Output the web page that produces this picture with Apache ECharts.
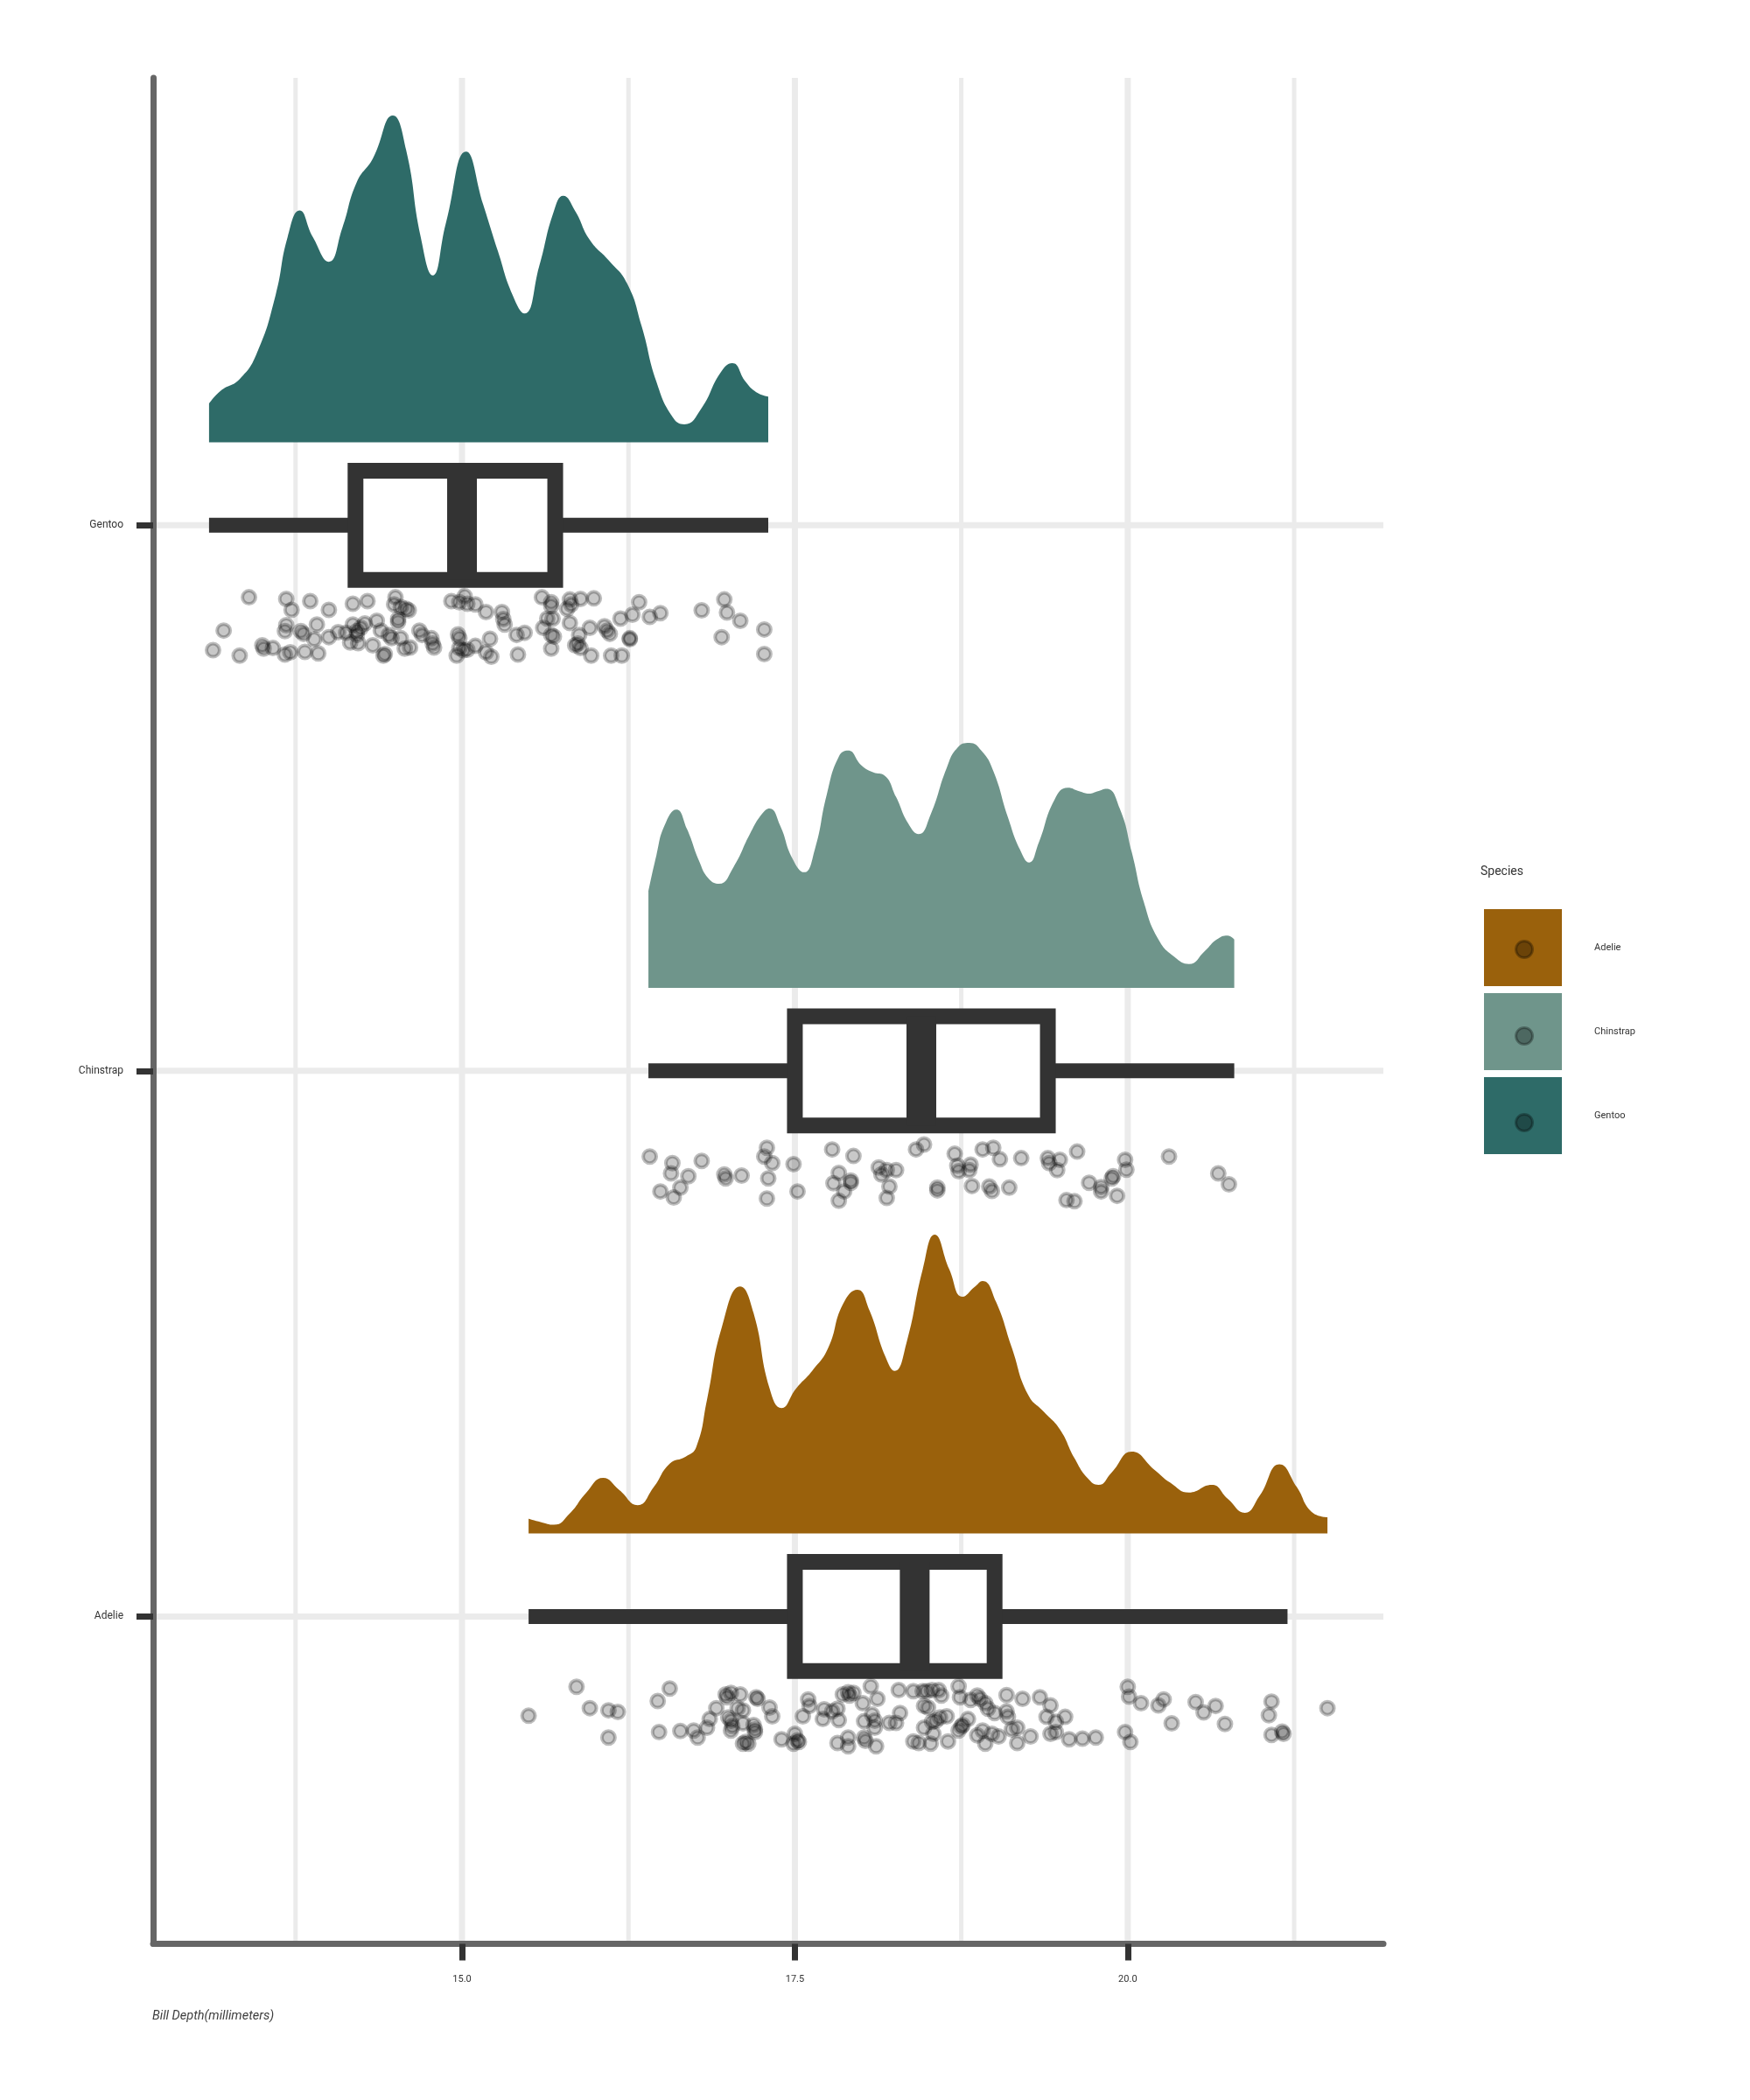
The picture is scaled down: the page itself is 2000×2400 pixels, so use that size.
<!DOCTYPE html>
<html lang="en">
<head>
<meta charset="UTF-8">
<title>Bill depth by species</title>
<style>html,body{margin:0;background:#fff}</style>
</head>
<body>
<div class="main" style="width:2000px;height:2400px"></div>
<script src="https://cdn.jsdelivr.net/npm/echarts@6/dist/echarts.min.js"></script>
<script>
    // categories: Adelie = 1, Chinstrap = 2, Gentoo = 3 on the y axis
    var species = ['Adelie', 'Chinstrap', 'Gentoo'];
    var xTicks = [15.0, 17.5, 20.0];
    var xMinor = [13.75, 16.25, 18.75, 21.25];

    // boxplot: lower whisker, q1, median, q3, upper whisker
    var boxStats = [
        [15.5, 17.5, 18.4, 19.0, 21.2],
        [16.4, 17.5, 18.45, 19.4, 20.8],
        [13.1, 14.2, 15.0, 15.7, 17.3]
    ];

    // half-violin densities: [bill depth, height above the baseline]
    var densAdelie = [
        [15.50, 0.027], [15.59, 0.021], [15.69, 0.016], [15.81, 0.037], [15.93, 0.074], [16.06, 0.102],
        [16.18, 0.080], [16.32, 0.052], [16.44, 0.085], [16.56, 0.128], [16.68, 0.141], [16.76, 0.159],
        [16.84, 0.245], [16.95, 0.377], [17.09, 0.453], [17.19, 0.404], [17.31, 0.266], [17.40, 0.230],
        [17.51, 0.266], [17.63, 0.298], [17.75, 0.340], [17.86, 0.420], [17.97, 0.447], [18.06, 0.409],
        [18.18, 0.324], [18.25, 0.298], [18.34, 0.351], [18.46, 0.484], [18.55, 0.548], [18.66, 0.484],
        [18.76, 0.434], [18.85, 0.452], [18.91, 0.463], [19.01, 0.425], [19.13, 0.340], [19.25, 0.255],
        [19.37, 0.223], [19.49, 0.191], [19.60, 0.138], [19.70, 0.101], [19.78, 0.089], [19.88, 0.112],
        [20.03, 0.150], [20.20, 0.117], [20.32, 0.093], [20.46, 0.075], [20.63, 0.089], [20.75, 0.064],
        [20.88, 0.038], [20.99, 0.069], [21.14, 0.127], [21.27, 0.085], [21.38, 0.040], [21.50, 0.030]
    ];
    var densChinstrap = [
        [16.40, 0.177], [16.46, 0.243], [16.52, 0.297], [16.61, 0.327], [16.69, 0.291], [16.78, 0.233],
        [16.85, 0.201], [16.93, 0.191], [17.04, 0.222], [17.16, 0.281], [17.25, 0.318], [17.31, 0.329],
        [17.39, 0.297], [17.48, 0.238], [17.57, 0.212], [17.65, 0.254], [17.74, 0.355], [17.83, 0.424],
        [17.90, 0.435], [18.00, 0.408], [18.09, 0.395], [18.17, 0.390], [18.26, 0.350], [18.35, 0.302],
        [18.43, 0.282], [18.52, 0.318], [18.64, 0.403], [18.72, 0.440], [18.81, 0.449], [18.90, 0.435],
        [18.99, 0.398], [19.10, 0.313], [19.19, 0.254], [19.26, 0.230], [19.33, 0.265], [19.45, 0.345],
        [19.55, 0.367], [19.64, 0.360], [19.71, 0.356], [19.77, 0.360], [19.84, 0.365], [19.94, 0.329],
        [20.03, 0.249], [20.12, 0.158], [20.23, 0.089], [20.35, 0.057], [20.46, 0.044], [20.58, 0.068],
        [20.67, 0.089], [20.75, 0.096], [20.80, 0.089]
    ];
    var densGentoo = [
        [13.10, 0.071], [13.19, 0.095], [13.33, 0.116], [13.46, 0.164], [13.60, 0.270], [13.69, 0.376],
        [13.78, 0.425], [13.88, 0.376], [14.00, 0.331], [14.10, 0.392], [14.21, 0.477], [14.33, 0.520],
        [14.48, 0.599], [14.58, 0.536], [14.69, 0.376], [14.78, 0.306], [14.88, 0.403], [15.03, 0.533],
        [15.16, 0.435], [15.27, 0.350], [15.38, 0.270], [15.47, 0.236], [15.58, 0.323], [15.69, 0.424],
        [15.76, 0.452], [15.85, 0.424], [15.96, 0.371], [16.10, 0.334], [16.24, 0.291], [16.35, 0.212],
        [16.46, 0.111], [16.58, 0.047], [16.67, 0.033], [16.80, 0.063], [16.94, 0.127], [17.03, 0.145],
        [17.13, 0.111], [17.21, 0.092], [17.30, 0.084]
    ];

    // jittered raw points: [bill depth, vertical offset from the category line]
    var jitAdelie = [
        [15.50, -0.182], [15.86, -0.129], [15.96, -0.168], [16.10, -0.172], [16.17, -0.175], [16.10, -0.222],
        [16.47, -0.155], [16.56, -0.132], [16.48, -0.212], [16.64, -0.210], [16.74, -0.209], [16.77, -0.222],
        [16.84, -0.204], [16.86, -0.188], [16.91, -0.168], [16.98, -0.143], [16.99, -0.148], [17.02, -0.140],
        [17.09, -0.143], [17.07, -0.168], [17.11, -0.172], [17.00, -0.185], [17.02, -0.191], [17.03, -0.201],
        [17.02, -0.209], [17.11, -0.196], [17.19, -0.199], [17.20, -0.207], [17.20, -0.212], [17.21, -0.148],
        [17.22, -0.151], [17.31, -0.167], [17.33, -0.183], [17.13, -0.230], [17.15, -0.233], [17.11, -0.233],
        [17.40, -0.225], [17.50, -0.215], [17.52, -0.227], [17.53, -0.230], [17.49, -0.233], [17.56, -0.183],
        [17.60, -0.152], [17.61, -0.164], [17.72, -0.170], [17.71, -0.188], [17.78, -0.174], [17.82, -0.169],
        [17.83, -0.190], [17.86, -0.143], [17.91, -0.145], [17.90, -0.139], [17.94, -0.140], [18.01, -0.159],
        [18.07, -0.128], [18.12, -0.151], [17.82, -0.232], [17.90, -0.222], [17.90, -0.238], [18.02, -0.222],
        [18.03, -0.228], [18.11, -0.238], [18.08, -0.180], [18.10, -0.191], [18.10, -0.204], [18.02, -0.192],
        [18.21, -0.195], [18.26, -0.195], [18.29, -0.177], [18.28, -0.135], [18.39, -0.137], [18.46, -0.137],
        [18.49, -0.137], [18.53, -0.135], [18.58, -0.135], [18.60, -0.145], [18.47, -0.164], [18.50, -0.167],
        [18.47, -0.204], [18.53, -0.193], [18.56, -0.191], [18.59, -0.185], [18.64, -0.183], [18.54, -0.215],
        [18.52, -0.233], [18.39, -0.229], [18.43, -0.232], [18.65, -0.229],
        [18.73, -0.128], [18.74, -0.148], [18.82, -0.153], [18.87, -0.145], [18.89, -0.151], [18.93, -0.159],
        [18.95, -0.169], [19.00, -0.177], [19.09, -0.144], [19.21, -0.151], [19.34, -0.148], [19.42, -0.163],
        [19.09, -0.174], [19.10, -0.184], [18.80, -0.188], [18.76, -0.199], [18.75, -0.202], [18.73, -0.209],
        [18.87, -0.218], [18.91, -0.209], [18.93, -0.233], [18.98, -0.215], [19.03, -0.220], [19.13, -0.207],
        [19.17, -0.204], [19.17, -0.232], [19.27, -0.220], [19.39, -0.184], [19.46, -0.193], [19.53, -0.184],
        [19.42, -0.215], [19.46, -0.212], [19.56, -0.225], [19.66, -0.224], [19.76, -0.222], [20.00, -0.129],
        [20.01, -0.147], [20.10, -0.159], [20.23, -0.163], [20.27, -0.152], [20.33, -0.196], [20.51, -0.157],
        [20.57, -0.176], [20.66, -0.164], [20.73, -0.197], [19.98, -0.212], [20.02, -0.230], [21.08, -0.156],
        [21.06, -0.181], [21.08, -0.217], [21.16, -0.211], [21.17, -0.215], [21.50, -0.168]
    ];
    var jitChinstrap = [
        [16.41, -0.157], [16.58, -0.169], [16.57, -0.188], [16.70, -0.193], [16.80, -0.165], [16.49, -0.221],
        [16.59, -0.232], [16.64, -0.214], [16.97, -0.190], [16.98, -0.197], [17.10, -0.192], [17.29, -0.141],
        [17.27, -0.157], [17.33, -0.169], [17.30, -0.197], [17.29, -0.234], [17.49, -0.171], [17.52, -0.221],
        [17.78, -0.144], [17.94, -0.156], [17.83, -0.187], [17.79, -0.206], [17.92, -0.201], [17.92, -0.205],
        [17.87, -0.221], [17.83, -0.238], [18.13, -0.177], [18.15, -0.190], [18.19, -0.182], [18.26, -0.182],
        [18.21, -0.212], [18.19, -0.233], [18.41, -0.144], [18.47, -0.135], [18.57, -0.214], [18.57, -0.219],
        [18.70, -0.152], [18.72, -0.174], [18.73, -0.184], [18.82, -0.172], [18.81, -0.182], [18.83, -0.211],
        [18.91, -0.144], [18.99, -0.141], [19.04, -0.162], [18.96, -0.212], [18.98, -0.220], [19.11, -0.214],
        [19.20, -0.160], [19.40, -0.160], [19.41, -0.169], [19.49, -0.163], [19.47, -0.182], [19.62, -0.148],
        [19.71, -0.205], [19.80, -0.213], [19.80, -0.221], [19.88, -0.197], [19.89, -0.193], [19.98, -0.163],
        [19.99, -0.181], [19.92, -0.229], [19.54, -0.237], [19.60, -0.239], [20.31, -0.157], [20.68, -0.188],
        [20.76, -0.208]
    ];
    var jitGentoo = [
        [13.40, -0.132], [13.68, -0.135], [13.86, -0.139], [14.18, -0.144], [14.29, -0.139], [14.50, -0.132],
        [14.49, -0.145], [14.54, -0.150], [14.58, -0.153], [14.60, -0.156], [14.92, -0.139], [14.98, -0.141],
        [15.02, -0.130], [15.04, -0.144], [15.10, -0.145], [15.60, -0.132], [15.67, -0.141], [15.67, -0.148],
        [15.81, -0.136], [15.89, -0.135], [15.99, -0.134], [15.82, -0.145], [16.33, -0.141], [16.97, -0.136],
        [16.80, -0.156], [13.72, -0.155], [14.00, -0.155], [15.18, -0.159], [15.30, -0.159], [15.31, -0.172],
        [16.99, -0.160], [17.09, -0.175], [16.19, -0.171], [16.28, -0.164], [16.41, -0.168], [16.49, -0.161],
        [15.79, -0.153], [15.81, -0.179], [15.64, -0.171], [15.68, -0.171], [14.52, -0.172], [14.52, -0.177],
        [14.36, -0.175], [14.27, -0.180], [14.18, -0.182], [13.91, -0.182], [13.68, -0.183], [15.61, -0.188],
        [16.07, -0.185], [15.96, -0.188], [15.32, -0.182], [13.21, -0.193], [13.67, -0.194], [13.79, -0.194],
        [13.81, -0.199], [13.89, -0.209], [14.00, -0.205], [14.07, -0.196], [14.13, -0.197], [14.21, -0.201],
        [14.21, -0.194], [14.24, -0.188], [14.39, -0.193], [14.45, -0.201], [14.47, -0.207], [14.54, -0.207],
        [14.68, -0.193], [14.70, -0.201], [14.77, -0.207], [14.78, -0.217], [14.97, -0.200], [14.98, -0.207],
        [15.21, -0.208], [15.41, -0.201], [15.47, -0.197], [15.67, -0.201], [15.69, -0.204], [15.88, -0.201],
        [16.09, -0.193], [16.11, -0.199], [16.26, -0.209], [16.26, -0.207], [16.95, -0.205], [17.27, -0.191],
        [13.13, -0.229], [13.33, -0.239], [13.50, -0.220], [13.51, -0.226], [13.58, -0.225], [13.67, -0.237],
        [13.71, -0.233], [13.82, -0.232], [13.92, -0.235], [14.16, -0.215], [14.22, -0.216], [14.33, -0.220],
        [14.41, -0.239], [14.42, -0.236], [14.57, -0.226], [14.61, -0.224], [14.79, -0.224], [14.96, -0.239],
        [14.98, -0.225], [15.01, -0.229], [15.04, -0.228], [15.10, -0.221], [15.18, -0.233], [15.22, -0.241],
        [15.42, -0.237], [15.67, -0.226], [15.87, -0.217], [15.89, -0.225], [15.97, -0.239], [16.12, -0.239],
        [16.20, -0.239], [17.27, -0.236], [15.85, -0.220]
    ];

    var colors = ['#9a610c', '#6f958b', '#2e6b68'];
    var densities = [densAdelie, densChinstrap, densGentoo];
    var jitters = [jitAdelie, jitChinstrap, jitGentoo];
    var xMin = 12.68, xMax = 21.92, yMin = 0.4, yMax = 3.82;
    var baseShift = 0.152;   // violin sits just above the category line
    var boxHalf = 0.1;

    var main = document.querySelector('.main');
    var chart = echarts.init(main);

    var series = [];

    // background grid lines
    function gridLines(values, dir, width) {
        return {
            type: 'custom',
            silent: true,
            z: 0,
            data: values.map(function (v) { return dir === 'v' ? [v, yMin] : [xMin, v]; }),
            renderItem: function (params, api) {
                var p = api.coord([api.value(0), api.value(1)]);
                var cs = params.coordSys;
                var shape = dir === 'v'
                    ? {x1: p[0], y1: cs.y, x2: p[0], y2: cs.y + cs.height}
                    : {x1: cs.x, y1: p[1], x2: cs.x + cs.width, y2: p[1]};
                return {type: 'line', shape: shape, style: {stroke: '#ebebeb', lineWidth: width}};
            }
        };
    }
    series.push(gridLines(xMinor, 'v', 5));
    series.push(gridLines(xTicks, 'v', 7));
    series.push(gridLines([1, 2, 3], 'h', 7));

    species.forEach(function (name, i) {
        var base = i + 1 + baseShift;
        series.push({
            name: name,
            type: 'line',
            smooth: 0.5,
            symbol: 'none',
            z: 2,
            color: colors[i],
            lineStyle: {width: 0},
            areaStyle: {color: colors[i], opacity: 1, origin: base},
            data: densities[i].map(function (d) { return [d[0], base + d[1]]; })
        });
    });

    series.push({
        type: 'custom',
        name: 'box',
        z: 3,
        silent: true,
        encode: {x: [1, 2, 3, 4, 5], y: 0},
        data: boxStats.map(function (b, i) { return [i + 1].concat(b); }),
        renderItem: function (params, api) {
            var c = api.value(0);
            var lo = api.coord([api.value(1), c]);
            var q1 = api.coord([api.value(2), c]);
            var md = api.coord([api.value(3), c]);
            var q3 = api.coord([api.value(4), c]);
            var hi = api.coord([api.value(5), c]);
            var half = api.size([0, boxHalf])[1];
            var wl = {stroke: '#333333', lineWidth: 17};
            return {
                type: 'group',
                children: [
                    {type: 'line', shape: {x1: lo[0], y1: lo[1], x2: q1[0], y2: q1[1]}, style: wl},
                    {type: 'line', shape: {x1: q3[0], y1: q3[1], x2: hi[0], y2: hi[1]}, style: wl},
                    {type: 'rect', shape: {x: q1[0], y: q1[1] - half, width: q3[0] - q1[0], height: half * 2},
                        style: {fill: '#ffffff', stroke: '#333333', lineWidth: 18}},
                    {type: 'line', shape: {x1: md[0], y1: md[1] - half, x2: md[0], y2: md[1] + half},
                        style: {stroke: '#333333', lineWidth: 34}}
                ]
            };
        }
    });

    species.forEach(function (name, i) {
        series.push({
            name: name + ' points',
            type: 'scatter',
            z: 4,
            symbol: 'circle',
            symbolSize: 15,
            itemStyle: {color: 'rgba(0,0,0,0.27)', borderColor: 'rgba(0,0,0,0.32)', borderWidth: 4},
            data: jitters[i].map(function (d) { return [d[0], i + 1 + d[1]]; })
        });
    });

    var option = {
        animation: false,
        backgroundColor: '#ffffff',
        textStyle: {fontFamily: 'Roboto'},
        graphic: [
            {type: 'text', x: 1692, y: 996, silent: true,
                style: {text: 'Species', fontSize: 14, fontFamily: 'Roboto', fill: '#333333', verticalAlign: 'middle'}},
            {type: 'text', x: 174, y: 2304, silent: true,
                style: {text: 'Bill Depth(millimeters)', fontSize: 14.5, fontStyle: 'italic', fontFamily: 'Roboto',
                    fill: '#3d3d3d', verticalAlign: 'middle'}}
        ],
        legend: [
            {
                data: species,
                orient: 'vertical',
                left: 1691,
                top: 1034,
                icon: 'rect',
                itemWidth: 89,
                itemHeight: 88,
                itemGap: 8,
                itemStyle: {borderWidth: 0},
                textStyle: {fontSize: 11, color: '#333333', fontFamily: 'Roboto', padding: [0, 0, 0, 32]}
            },
            {
                data: species,
                orient: 'vertical',
                left: 1726,
                top: 1069,
                z: 5,
                icon: 'circle',
                itemWidth: 19,
                itemHeight: 19,
                itemGap: 77,
                formatter: function () { return ''; },
                itemStyle: {color: 'rgba(0,0,0,0.3)', borderColor: 'rgba(0,0,0,0.3)', borderWidth: 3},
                textStyle: {fontSize: 8}
            }
        ],
        grid: {left: 175, right: 419, top: 89, bottom: 178.5},
        xAxis: {
            type: 'value',
            min: xMin,
            max: xMax,
            splitLine: {show: false},
            axisLine: {onZero: false, lineStyle: {color: '#666666', width: 7}},
            axisTick: {customValues: xTicks, length: 19, lineStyle: {color: '#333333', width: 7}},
            axisLabel: {
                customValues: xTicks,
                margin: 35,
                fontSize: 11,
                color: '#333333',
                fontFamily: 'Roboto',
                formatter: function (v) { return v.toFixed(1); }
            }
        },
        yAxis: {
            type: 'value',
            min: yMin,
            max: yMax,
            splitLine: {show: false},
            axisLine: {show: true, onZero: false, lineStyle: {color: '#666666', width: 7}},
            axisTick: {show: true, customValues: [1, 2, 3], length: 19, lineStyle: {color: '#333333', width: 7}},
            axisLabel: {
                customValues: [1, 2, 3],
                margin: 34,
                fontSize: 12,
                color: '#333333',
                fontFamily: 'Roboto',
                formatter: function (v) { return species[Math.round(v) - 1] || ''; }
            }
        },
        series: series
    };

    chart.setOption(option);
</script>
</body>
</html>
